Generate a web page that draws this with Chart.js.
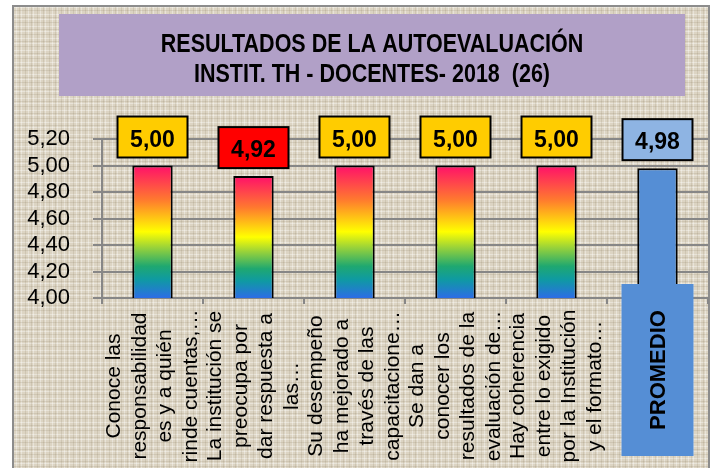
<!DOCTYPE html>
<html>
<head>
<meta charset="utf-8">
<script src="https://cdn.jsdelivr.net/npm/chart.js@4"></script>
<style>
  html, body { margin: 0; padding: 0; background: #fff; }
  #wrap { width: 714px; height: 468px; }
</style>
</head>
<body>
<div id="wrap"><canvas id="autoevalChart" width="714" height="468"></canvas></div>
<script>
// datos
const titleLines = ['RESULTADOS DE LA AUTOEVALUACIÓN', 'INSTIT. TH - DOCENTES- 2018  (26)'];
const categories = [
    ['Conoce las', 'responsabilidad', 'es y a quién', 'rinde cuentas,…'],
    ['La institución se', 'preocupa por', 'dar respuesta a', 'las…'],
    ['Su desempeño', 'ha mejorado a', 'través de las', 'capacitacione…'],
    ['Se dan a', 'conocer los', 'resultados de la', 'evaluación de…'],
    ['Hay coherencia', 'entre lo exigido', 'por la Institución', 'y el formato…'],
    ['PROMEDIO']
];
const scores = [5.00, 4.92, 5.00, 5.00, 5.00, 4.98];
const yMin = 4.0;
const yMax = 5.2;
const yStep = 0.2;

// estilos
const labelBoxColors = ['#ffcc00', '#ff0000', '#ffcc00', '#ffcc00', '#ffcc00', '#8eb4e3'];
const promedioColor = '#558ed5';
const gridColor = '#878787';
const fontFamily = '"Liberation Sans", Arial, sans-serif';
const rainbowStops = [
    [0, '#ff0f6a'], [0.26, '#ff7a2e'], [0.5, '#ffff00'], [0.62, '#98d23a'],
    [0.76, '#1fa870'], [0.86, '#0f9aa2'], [1, '#2c6de6']
];

const fmt = v => v.toFixed(2).replace('.', ',');
const isPromedio = i => i === categories.length - 1;

// textura tipo lino del fondo
function makeLinen() {
    const p = document.createElement('canvas');
    p.width = 12; p.height = 12;
    const g = p.getContext('2d');
    g.fillStyle = '#dcd4c3'; g.fillRect(0, 0, 12, 12);
    g.fillStyle = 'rgba(255,255,255,0.35)';
    g.fillRect(0, 2, 12, 1); g.fillRect(0, 7, 12, 1); g.fillRect(4, 0, 1, 12); g.fillRect(9, 0, 1, 12);
    g.fillStyle = 'rgba(110,90,60,0.12)';
    g.fillRect(0, 5, 12, 1); g.fillRect(0, 10, 12, 1); g.fillRect(1, 0, 1, 12); g.fillRect(7, 0, 1, 12);
    return p;
}

const backgroundPlugin = {
    id: 'fondo',
    beforeDraw(chart) {
        const ctx = chart.ctx;
        ctx.save();
        ctx.fillStyle = '#fff';
        ctx.fillRect(0, 0, chart.width, chart.height);
        ctx.fillStyle = ctx.createPattern(makeLinen(), 'repeat');
        ctx.fillRect(13, 6, 696, chart.height);
        ctx.strokeStyle = '#8c8c8c';
        ctx.lineWidth = 2;
        ctx.strokeRect(13, 6, 696, chart.height + 10);

        // cuadro del título
        ctx.fillStyle = '#b1a0c7';
        ctx.fillRect(59, 14, 626, 82);
        ctx.fillStyle = '#000';
        ctx.font = 'bold 25px ' + fontFamily;
        ctx.textAlign = 'center';
        ctx.textBaseline = 'alphabetic';
        titleLines.forEach((line, i) => {
            ctx.save();
            ctx.translate(372, 52 + i * 30);
            ctx.scale(0.86, 1);
            ctx.fillText(line, 0, 0);
            ctx.restore();
        });
        ctx.restore();
    }
};

const valueBoxPlugin = {
    id: 'cajasValor',
    afterDatasetsDraw(chart) {
        const ctx = chart.ctx;
        const meta = chart.getDatasetMeta(0);
        ctx.save();
        meta.data.forEach((bar, i) => {
            const w = 70, h = 41;
            const bottom = bar.y - 8;
            const left = bar.x - w / 2;
            ctx.fillStyle = labelBoxColors[i];
            ctx.fillRect(left, bottom - h, w, h);
            ctx.strokeStyle = '#000';
            ctx.lineWidth = 2;
            ctx.strokeRect(left, bottom - h, w, h);
            ctx.fillStyle = '#000';
            ctx.font = 'bold 23px ' + fontFamily;
            ctx.textAlign = 'center';
            ctx.textBaseline = 'alphabetic';
            ctx.fillText(fmt(scores[i]), bar.x, bottom - 11);
        });
        ctx.restore();
    }
};

// etiquetas del eje X rotadas y centradas
const xLabelPlugin = {
    id: 'etiquetasX',
    afterDraw(chart) {
        const ctx = chart.ctx;
        const xs = chart.scales.x;
        const axisY = chart.chartArea.bottom;
        ctx.save();
        categories.forEach((lines, i) => {
            const cx = xs.getPixelForValue(i);
            if (isPromedio(i)) {
                ctx.fillStyle = promedioColor;
                ctx.fillRect(cx - 36, axisY - 14, 72, 172);
                ctx.save();
                ctx.translate(cx + 1, axisY + 72);
                ctx.rotate(-Math.PI / 2);
                ctx.fillStyle = '#000';
                ctx.font = 'bold 22px ' + fontFamily;
                ctx.textAlign = 'center';
                ctx.textBaseline = 'middle';
                ctx.fillText(lines[0], 0, 0);
                ctx.restore();
                return;
            }
            ctx.font = '21px ' + fontFamily;
            ctx.fillStyle = '#000';
            ctx.textAlign = 'center';
            ctx.textBaseline = 'middle';
            lines.forEach((line, j) => {
                ctx.save();
                ctx.translate(cx + (j - (lines.length - 1) / 2) * 25.5, axisY + 88);
                ctx.rotate(-Math.PI / 2);
                ctx.fillText(line, 0, 0);
                ctx.restore();
            });
        });
        ctx.restore();
    }
};

function barFill(c) {
    if (isPromedio(c.dataIndex)) return promedioColor;
    const y = c.chart.scales.y;
    if (!y || !c.chart.chartArea) return '#ffcc00';
    const top = y.getPixelForValue(c.raw);
    const base = y.getPixelForValue(y.min);
    const grad = c.chart.ctx.createLinearGradient(0, top, 0, base);
    rainbowStops.forEach(([s, col]) => grad.addColorStop(s, col));
    return grad;
}

new Chart(document.getElementById('autoevalChart'), {
    type: 'bar',
    data: {
        labels: categories,
        datasets: [{
            data: scores,
            backgroundColor: barFill,
            borderColor: '#000',
            borderWidth: 2,
            borderSkipped: false,
            barPercentage: 0.4,
            categoryPercentage: 1
        }]
    },
    options: {
        responsive: false,
        animation: false,
        layout: { padding: { top: 139, right: 6, left: 0, bottom: 0 } },
        plugins: { legend: { display: false }, tooltip: { enabled: false }, title: { display: false } },
        scales: {
            x: {
                grid: { display: true, drawOnChartArea: false, drawTicks: true, tickLength: 6, color: gridColor, lineWidth: 2 },
                border: { color: gridColor, width: 2 },
                ticks: { display: false },
                afterFit: s => { s.height = 170; }
            },
            y: {
                min: yMin,
                max: yMax,
                ticks: {
                    stepSize: yStep,
                    autoSkip: false,
                    color: '#000',
                    padding: 23,
                    font: { family: fontFamily, size: 22, lineHeight: 1 },
                    callback: v => fmt(v)
                },
                grid: { color: gridColor, lineWidth: 2, tickLength: 9 },
                border: { color: gridColor, width: 2 },
                afterFit: s => { s.width = 102; }
            }
        }
    },
    plugins: [backgroundPlugin, valueBoxPlugin, xLabelPlugin]
});
</script>
</body>
</html>
